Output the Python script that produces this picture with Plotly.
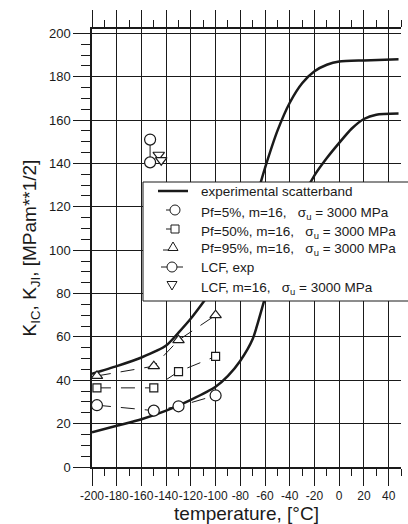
import plotly.graph_objects as go

# experimental scatterband (upper / lower bound curves)
band_upper_T = [-200, -180, -160, -140, -130, -120, -110, -100, -90, -80, -70, -60, -50, -40, -30, -20, -10, 0, 20, 48]
band_upper_K = [43, 46.5, 50.5, 56, 62, 68.5, 76, 84, 94, 105, 119, 138, 155, 168, 177, 182.5, 185.5, 187, 187.5, 188]
band_lower_T = [-200, -180, -160, -140, -120, -100, -90, -80, -70, -60, -50, -40, -30, -20, -10, 0, 10, 20, 30, 48]
band_lower_K = [16, 19, 22, 26, 31, 37, 42, 49, 59, 78, 95, 110, 124, 134.5, 142.5, 149.5, 156, 160.5, 162.5, 163]

# predictions
T_pf = [-196, -150, -130, -100]
K_pf5 = [28.5, 26, 28, 33]
K_pf50 = [36.5, 36.5, 44, 51]
K_pf95 = [42, 46.5, 58.5, 70]

# LCF
T_lcf_exp = [-153, -153]
K_lcf_exp = [151, 140.5]
T_lcf_pred = [-146, -144]
K_lcf_pred = [144, 141.5]

x_ticks = list(range(-200, 41, 20))
y_ticks = list(range(0, 201, 20))

legend_labels = [
    "experimental scatterband",
    "Pf=5%, m=16,   σ<sub>u</sub> = 3000 MPa",
    "Pf=50%, m=16,   σ<sub>u</sub> = 3000 MPa",
    "Pf=95%, m=16,   σ<sub>u</sub> = 3000 MPa",
    "LCF, exp",
    "LCF, m=16,   σ<sub>u</sub> = 3000 MPa",
]

FONT = "Arial, Liberation Sans, sans-serif"
INK = "#1a1a1a"

# plot-area pixel frame (for placing the hand-drawn legend)
PL, PR, PT, PB = 92, 401, 29, 467
def fx(px):
    return (px - PL) / (PR - PL)
def fy(py):
    return (PB - py) / (PB - PT)

fig = go.Figure()

fig.add_trace(go.Scatter(x=band_upper_T, y=band_upper_K, mode="lines",
                         line=dict(color=INK, width=2.5, shape="spline", smoothing=0.6)))
fig.add_trace(go.Scatter(x=band_lower_T, y=band_lower_K, mode="lines",
                         line=dict(color=INK, width=2.5, shape="spline", smoothing=0.6)))

mk = dict(color="white", line=dict(color=INK, width=1.2))
dash = "14px,10px"
fig.add_trace(go.Scatter(x=T_pf, y=K_pf5, mode="lines+markers", cliponaxis=False,
                         line=dict(color=INK, width=1, dash=dash),
                         marker=dict(symbol="circle", size=11, **mk)))
fig.add_trace(go.Scatter(x=T_pf, y=K_pf50, mode="lines+markers", cliponaxis=False,
                         line=dict(color=INK, width=1, dash=dash),
                         marker=dict(symbol="square", size=8, **mk)))
fig.add_trace(go.Scatter(x=T_pf, y=K_pf95, mode="lines+markers", cliponaxis=False,
                         line=dict(color=INK, width=1, dash=dash),
                         marker=dict(symbol="triangle-up", size=10, **mk)))
fig.add_trace(go.Scatter(x=T_lcf_exp, y=K_lcf_exp, mode="lines+markers", cliponaxis=False,
                         line=dict(color=INK, width=1),
                         marker=dict(symbol="circle", size=11, **mk)))
fig.add_trace(go.Scatter(x=T_lcf_pred, y=K_lcf_pred, mode="markers", cliponaxis=False,
                         marker=dict(symbol="triangle-down", size=10, **mk)))

# ---- legend (drawn as shapes + annotations) ----
shapes = []
annotations = []
shapes.append(dict(type="rect", xref="paper", yref="paper", layer="above",
                   x0=fx(143), x1=1.08, y0=fy(301), y1=fy(182),
                   fillcolor="white", line=dict(color=INK, width=1)))
row_y = [191, 210, 229, 247, 267, 285]
sub_off = [0, 3, 3, 3, 0, 3]
lw = dict(color=INK, width=1)

def pix_shape(kind, cx, cy, **kw):
    d = dict(type=kind, xref="paper", yref="paper", layer="above",
             xsizemode="pixel", ysizemode="pixel", xanchor=fx(cx), yanchor=fy(cy))
    d.update(kw)
    return d

# row 1: thick line
shapes.append(pix_shape("line", 0, row_y[0], x0=158, x1=188, y0=0, y1=0,
                        xanchor=fx(0), line=dict(color=INK, width=2.5)))
# row 2: circle
shapes.append(pix_shape("line", 0, row_y[1], x0=166, x1=170, y0=0, y1=0, xanchor=fx(0), line=lw))
shapes.append(pix_shape("circle", 175, row_y[1], x0=-5, x1=5, y0=-5, y1=5,
                        fillcolor="white", line=lw))
# row 3: square
shapes.append(pix_shape("line", 0, row_y[2], x0=166, x1=171, y0=0, y1=0, xanchor=fx(0), line=lw))
shapes.append(pix_shape("rect", 175, row_y[2], x0=-4, x1=4, y0=-4, y1=4,
                        fillcolor="white", line=lw))
# row 4: triangle up
shapes.append(pix_shape("line", 0, row_y[3], x0=163, x1=169, y0=-3, y1=-3, xanchor=fx(0), line=lw))
shapes.append(pix_shape("path", 173, row_y[3], path="M -5,-3.5 L 5,-3.5 L 0,5 Z",
                        fillcolor="white", line=lw))
# row 5: circle with line through
shapes.append(pix_shape("line", 0, row_y[4], x0=161, x1=183, y0=0, y1=0, xanchor=fx(0), line=lw))
shapes.append(pix_shape("circle", 172, row_y[4], x0=-5, x1=5, y0=-5, y1=5,
                        fillcolor="white", line=lw))
# row 6: triangle down
shapes.append(pix_shape("path", 172, row_y[5], path="M -5,3.5 L 5,3.5 L 0,-5 Z",
                        fillcolor="white", line=lw))

for lab, ry, off in zip(legend_labels, row_y, sub_off):
    annotations.append(dict(text=lab, xref="paper", yref="paper", x=fx(199), y=fy(ry + off),
                            xanchor="left", yanchor="middle", showarrow=False,
                            font=dict(size=13.5, family=FONT, color=INK)))

fig.update_layout(
    width=408, height=524,
    margin=dict(l=PL, r=408 - PR, t=PT, b=524 - PB, autoexpand=False),
    paper_bgcolor="white", plot_bgcolor="white",
    font=dict(family=FONT, color=INK),
    showlegend=False,
    shapes=shapes, annotations=annotations,
)

fig.update_xaxes(
    range=[-200, 50], tickvals=x_ticks, ticktext=[str(v) for v in x_ticks],
    tickangle=0, automargin=False,
    showline=True, linecolor=INK, linewidth=1.5, mirror="ticks",
    ticks="outside", ticklen=17, tickwidth=1, tickcolor=INK,
    minor=dict(dtick=10, tick0=-200, ticks="outside", ticklen=7, tickcolor=INK, showgrid=False),
    showgrid=True, gridcolor=INK, gridwidth=1, zeroline=False,
    tickfont=dict(size=12, family=FONT, color=INK),
    title=dict(text="temperature, [°C]", font=dict(size=19, family=FONT, color=INK), standoff=0),
)
fig.update_yaxes(
    range=[0, 202], tickvals=y_ticks, automargin=False,
    showline=True, linecolor=INK, linewidth=1.5,
    ticks="outside", ticklen=17, tickwidth=1, tickcolor=INK,
    minor=dict(dtick=5, tick0=0, ticks="outside", ticklen=9, tickcolor=INK, showgrid=False),
    showgrid=True, gridcolor=INK, gridwidth=1, zeroline=False,
    tickfont=dict(size=13, family=FONT, color=INK),
    title=dict(text="K<sub>IC</sub>, K<sub>JI</sub>, [MPam**1/2]",
               font=dict(size=19, family=FONT, color=INK), standoff=7),
)

fig.write_html("out.html", config={"displayModeBar": False},
               post_script="document.body.style.margin='0';document.body.style.overflow='hidden';")
